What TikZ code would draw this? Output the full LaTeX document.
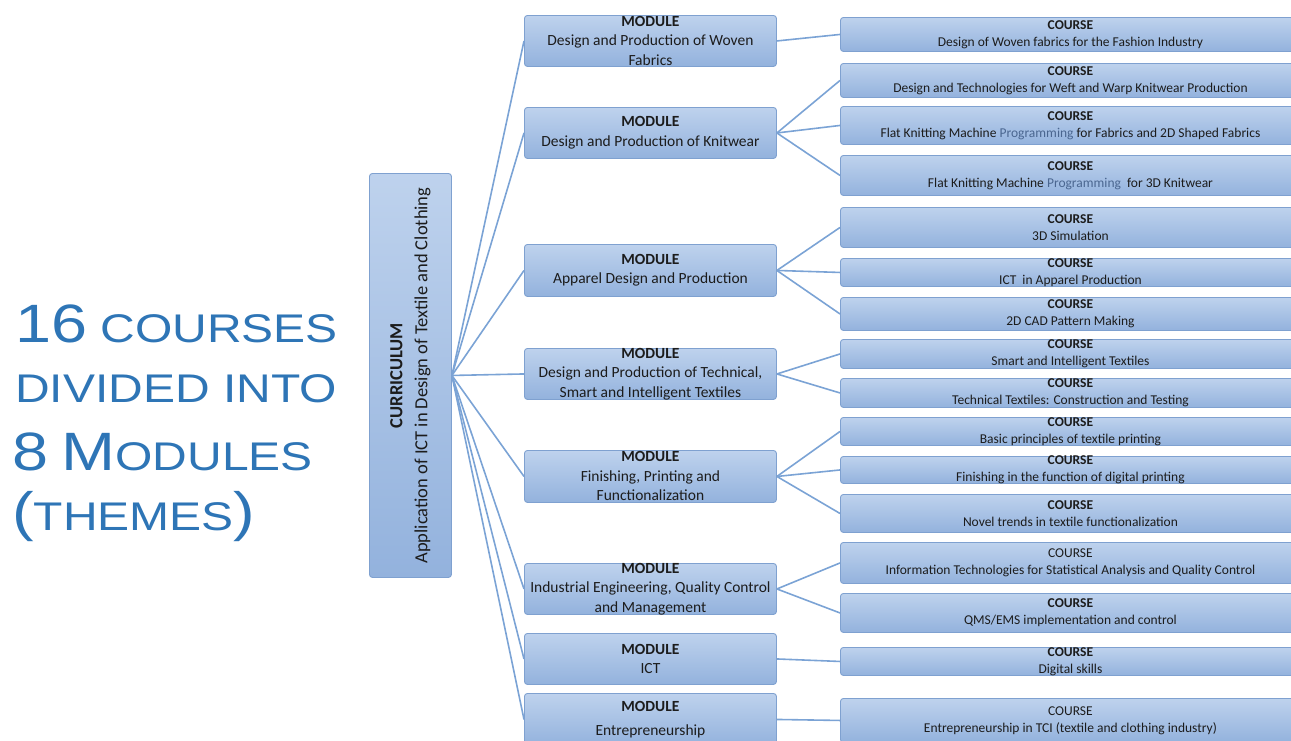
\documentclass[tikz,border=0pt]{standalone}
\usepackage{fontspec}
\setmainfont{Carlito}
\newfontfamily\headfont[FakeStretch=1.2]{Liberation Sans}

\definecolor{boxtop}{HTML}{BED2ED}
\definecolor{boxbot}{HTML}{93B2DD}
\definecolor{boxline}{HTML}{7FA1D0}
\definecolor{wirecol}{HTML}{7BA3D5}
\definecolor{headblue}{HTML}{2E75B6}
\definecolor{inktext}{HTML}{1C1C1C}
\definecolor{softink}{HTML}{4A6690}

\tikzset{
  box/.style={draw=boxline, line width=0.9pt, rounded corners=3pt,
    top color=boxtop, bottom color=boxbot, inner sep=0pt, anchor=north west},
  curbox/.style={box, minimum width=82pt, minimum height=404pt},
  modbox/.style={box, minimum width=252pt, minimum height=51pt},
  crsbox/.style={box, minimum width=460pt},
  modtext/.style={text=inktext, font=\fontsize{15.5}{19.5}\selectfont, align=center, inner sep=0pt},
  crstext/.style={text=inktext, font=\fontsize{13.5}{17}\selectfont, align=center, inner sep=0pt},
  curtext/.style={text=inktext, font=\fontsize{18.5}{25}\selectfont, align=center, inner sep=0pt, rotate=90},
  link/.style={draw=wirecol, line width=1.6pt},
  head/.style={text=headblue, anchor=base west, inner sep=0pt,
    font=\headfont\fontsize{40}{48}\selectfont},
}
\newcommand{\bigpart}[1]{{\fontsize{54}{60}\selectfont #1}}

\begin{document}
\begin{tikzpicture}[x=1pt, y=-1pt]
\useasboundingbox (0,0) rectangle (1291,740);

% heading on the left
\node[head] (t1) at (15,342) {\bigpart{16} COURSES};
\node[head] (t2) at (15,402) {DIVIDED INTO};
\node[head] (t3) at (12,470) {\bigpart{8} \bigpart{M}ODULES};
\node[head] (t4) at (12,530) {\bigpart{(}THEMES\bigpart{)}};

% curriculum
\node[curbox, label={[curtext]center:{\textbf{CURRICULUM}\\Application of ICT in Design of Textile and Clothing}}] (cur) at (369,173) {};

% modules
\node[modbox, label={[modtext]center:{\textbf{MODULE}\\Design and Production of Woven\\Fabrics}}] (m1) at (524,15) {};
\node[modbox, label={[modtext]center:{\textbf{MODULE}\\Design and Production of Knitwear}}] (m2) at (524,107) {};
\node[modbox, minimum height=52pt, label={[modtext]center:{\textbf{MODULE}\\Apparel Design and Production}}] (m3) at (524,244) {};
\node[modbox, label={[modtext]center:{\textbf{MODULE}\\Design and Production of Technical,\\Smart and Intelligent Textiles}}] (m4) at (524,348) {};
\node[modbox, minimum height=52pt, label={[modtext]center:{\textbf{MODULE}\\Finishing, Printing and\\Functionalization}}] (m5) at (524,450) {};
\node[modbox, label={[modtext]center:{\textbf{MODULE}\\Industrial Engineering, Quality Control\\and Management}}] (m6) at (524,563) {};
\node[modbox, label={[modtext]center:{\textbf{MODULE}\\ICT}}] (m7) at (524,633) {};
\node[modbox, minimum height=52pt, label={[modtext]center:{\textbf{MODULE}\\[5pt]Entrepreneurship}}] (m8) at (524,693) {};

% courses
\node[crsbox, minimum height=34pt, label={[crstext]center:{\textbf{COURSE}\\Design of Woven fabrics for the Fashion Industry}}] (c1) at (840,17) {};
\node[crsbox, minimum height=34pt, label={[crstext]center:{\textbf{COURSE}\\Design and Technologies for Weft and Warp Knitwear Production}}] (c2) at (840,63) {};
\node[crsbox, minimum height=38pt, label={[crstext]center:{\textbf{COURSE}\\Flat Knitting Machine \textcolor{softink}{Programming} for Fabrics and 2D Shaped Fabrics}}] (c3) at (840,106) {};
\node[crsbox, minimum height=40pt, label={[crstext]center:{\textbf{COURSE}\\Flat Knitting Machine \textcolor{softink}{Programming}\ \ for 3D Knitwear}}] (c4) at (840,155) {};
\node[crsbox, minimum height=40pt, label={[crstext]center:{\textbf{COURSE}\\3D Simulation}}] (c5) at (840,207) {};
\node[crsbox, minimum height=28pt, label={[crstext]center:{\textbf{COURSE}\\ICT\ \ in Apparel Production}}] (c6) at (840,258) {};
\node[crsbox, minimum height=33pt, label={[crstext]center:{\textbf{COURSE}\\2D CAD Pattern Making}}] (c7) at (840,297) {};
\node[crsbox, minimum height=29pt, label={[crstext]center:{\textbf{COURSE}\\Smart and Intelligent Textiles}}] (c8) at (840,339) {};
\node[crsbox, minimum height=29pt, label={[crstext]center:{\textbf{COURSE}\\Technical Textiles: Construction and Testing}}] (c9) at (840,378) {};
\node[crsbox, minimum height=28pt, label={[crstext]center:{\textbf{COURSE}\\Basic principles of textile printing}}] (c10) at (840,417) {};
\node[crsbox, minimum height=27pt, label={[crstext]center:{\textbf{COURSE}\\Finishing in the function of digital printing}}] (c11) at (840,456) {};
\node[crsbox, minimum height=38pt, label={[crstext]center:{\textbf{COURSE}\\Novel trends in textile functionalization}}] (c12) at (840,494) {};
\node[crsbox, minimum height=41pt, label={[crstext]center:{COURSE\\Information Technologies for Statistical Analysis and Quality Control}}] (c13) at (840,542) {};
\node[crsbox, minimum height=39pt, label={[crstext]center:{\textbf{COURSE}\\QMS/EMS implementation and control}}] (c14) at (840,593) {};
\node[crsbox, minimum height=28pt, label={[crstext]center:{\textbf{COURSE}\\Digital skills}}] (c15) at (840,647) {};
\node[crsbox, minimum height=44pt, label={[crstext]center:{COURSE\\Entrepreneurship in TCI (textile and clothing industry)}}] (c16) at (840,698) {};

% curriculum to modules
\foreach \m in {m1,m2,m3,m4,m5,m6,m7,m8}
  \draw[link] (cur.east) -- (\m.west);

% modules to courses
\foreach \m/\c in {m1/c1, m2/c2, m2/c3, m2/c4, m3/c5, m3/c6, m3/c7,
                   m4/c8, m4/c9, m5/c10, m5/c11, m5/c12, m6/c13, m6/c14,
                   m7/c15, m8/c16}
  \draw[link] (\m.east) -- (\c.west);
\end{tikzpicture}
\end{document}
